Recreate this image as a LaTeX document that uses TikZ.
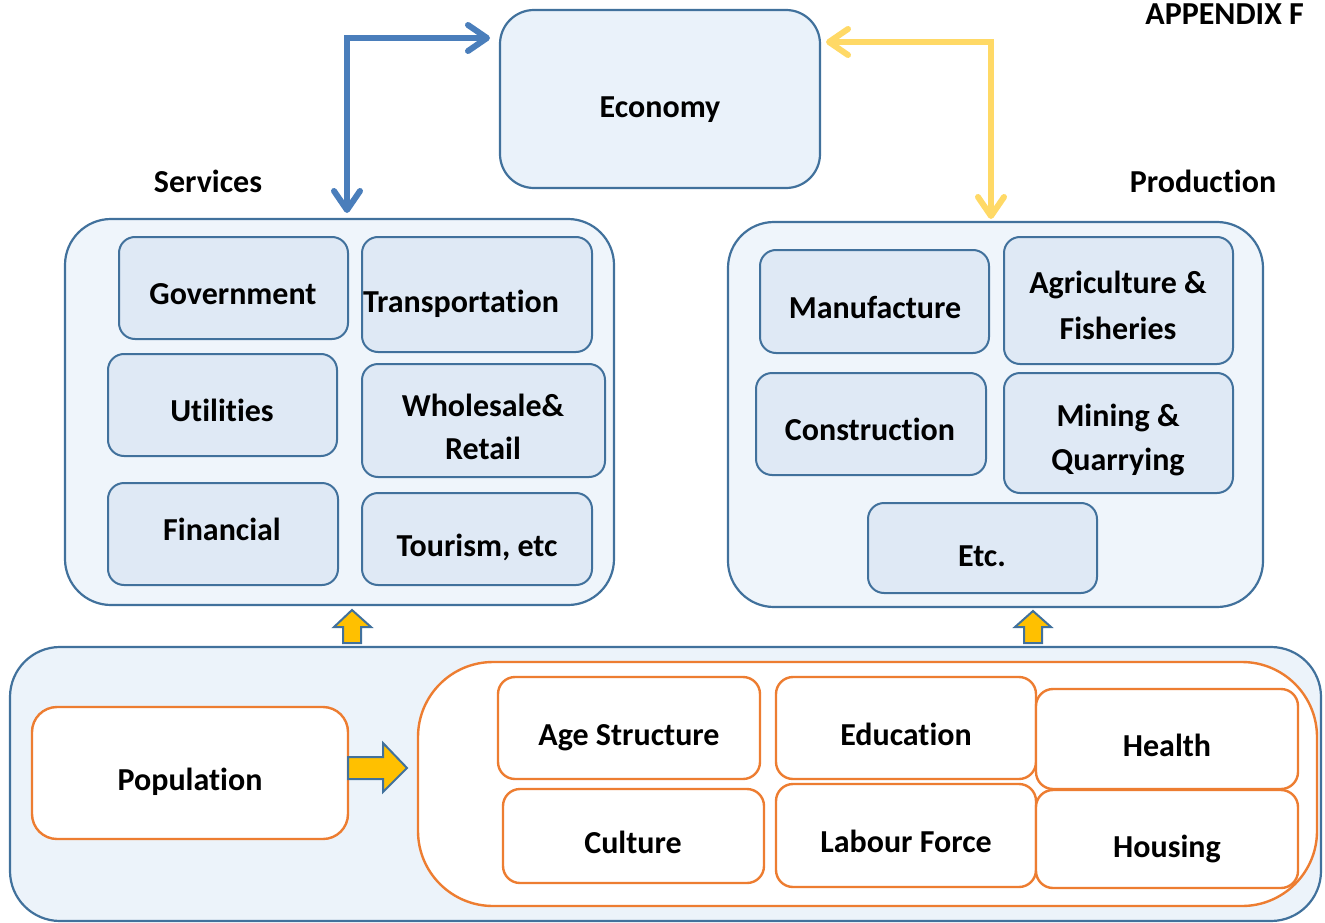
\documentclass[tikz,border=0pt]{standalone}
\usepackage{fontspec}
\setmainfont{Carlito}[RawFeature={-liga;-clig;-calt;-dlig}]
\usetikzlibrary{arrows.meta}
\definecolor{bdr}{HTML}{41719C}
\definecolor{contfill}{HTML}{EFF5FB}
\definecolor{boxfill}{HTML}{DFE9F5}
\definecolor{econfill}{HTML}{EAF2FA}
\definecolor{botfill}{HTML}{ECF3FA}
\definecolor{orng}{HTML}{ED7D31}
\definecolor{bluearr}{HTML}{4A7EBB}
\definecolor{yelarr}{HTML}{FFD966}
\definecolor{blkfill}{HTML}{FFC000}
\newcommand{\nolig}{\kern0pt{}}
\begin{document}
\begin{tikzpicture}[x=1pt,y=-1pt,
  cont/.style={rectangle, draw=bdr, line width=2.2pt, fill=contfill, rounded corners=46pt, inner sep=0pt},
  sbox/.style={rectangle, draw=bdr, line width=2pt, fill=boxfill, rounded corners=16pt, inner sep=0pt},
  obox/.style={rectangle, draw=orng, line width=2.4pt, fill=white, rounded corners=17pt, inner sep=0pt},
  lbl/.style={font=\bfseries\fontsize{32}{44}\selectfont, text height=20.5pt, text depth=0pt, inner sep=0pt},
  conn/.style={line width=6pt, line cap=round, line join=miter,
     {Straight Barb[length=19pt,width=26pt,line cap=round,line join=round]}-{Straight Barb[length=19pt,width=26pt,line cap=round,line join=round]}},
  blk/.style={draw=bdr, line width=2pt, fill=blkfill, line join=miter}
]
\useasboundingbox (0,0) rectangle (1325,923);

% top
\node[rectangle, draw=bdr, line width=2.2pt, fill=econfill, rounded corners=34pt, minimum width=320pt, minimum height=178pt] (econ) at (660,99) {};
\node[lbl] (econT) at (660,107) {Economy};
\node[lbl, anchor=east] (app) at (1304,14) {APPENDIX F};
\node[lbl] (svcT) at (208,182) {Services};
\node[lbl] (prodT) at (1203,182) {Production};

% services
\node[cont, minimum width=549pt, minimum height=386pt] (svc) at (339.5,412) {};
\node[sbox, minimum width=229pt, minimum height=102pt] (gov) at (233.5,288) {};
\node[sbox, minimum width=230pt, minimum height=115pt] (trans) at (477,294.5) {};
\node[sbox, minimum width=229pt, minimum height=102pt] (util) at (222.5,405) {};
\node[sbox, minimum width=243pt, minimum height=113pt] (whole) at (483.5,420.5) {};
\node[sbox, minimum width=230pt, minimum height=102pt] (fin) at (223,534) {};
\node[sbox, minimum width=230pt, minimum height=92pt] (tour) at (477,539) {};
\node[lbl] (govT) at (233,294) {Government};
\node[lbl] (transT) at (461,302) {Transportat\nolig ion};
\node[lbl] (utilT) at (222,411) {Ut\nolig ilit\nolig ies};
\node[lbl] (wholeA) at (483,406) {Wholesale\&};
\node[lbl] (wholeB) at (483,449) {Retail};
\node[lbl] (finT) at (222,530) {Financial};
\node[lbl] (tourT) at (477,546) {Tourism, etc};

% production
\node[cont, minimum width=535pt, minimum height=385pt] (prod) at (995.5,414.5) {};
\node[sbox, minimum width=229pt, minimum height=103pt] (manu) at (874.5,301.5) {};
\node[sbox, minimum width=229pt, minimum height=127pt] (agri) at (1118.5,300.5) {};
\node[sbox, minimum width=230pt, minimum height=102pt] (cons) at (871,424) {};
\node[sbox, minimum width=229pt, minimum height=120pt] (mining) at (1118.5,433) {};
\node[sbox, minimum width=229pt, minimum height=90pt] (etc) at (982.5,548) {};
\node[lbl] (manuT) at (875,308) {Manufacture};
\node[lbl] (agriA) at (1118,283) {Agriculture \&};
\node[lbl] (agriB) at (1118,329) {Fisheries};
\node[lbl] (consT) at (870,430) {Construct\nolig ion};
\node[lbl] (minA) at (1118,416) {Mining \&};
\node[lbl] (minB) at (1118,460) {Quarrying};
\node[lbl] (etcT) at (982,556) {Etc.};

% bottom
\node[rectangle, draw=bdr, line width=2.2pt, fill=botfill, rounded corners=50pt, minimum width=1311pt, minimum height=274pt] (bot) at (665.5,784) {};
\node[rectangle, draw=orng, line width=2.4pt, fill=white, rounded corners=75pt, minimum width=899pt, minimum height=244pt] (factors) at (867.5,784) {};
\node[obox, rounded corners=25pt, minimum width=316pt, minimum height=132pt] (pop) at (190,773) {};
\node[obox, minimum width=262pt, minimum height=102pt] (age) at (629,728) {};
\node[obox, minimum width=260pt, minimum height=102pt] (edu) at (906,728) {};
\node[obox, minimum width=262pt, minimum height=100pt] (health) at (1167,739) {};
\node[obox, minimum width=261pt, minimum height=94pt] (cult) at (633.5,836) {};
\node[obox, minimum width=260pt, minimum height=103pt] (lab) at (906,835.5) {};
\node[obox, minimum width=262pt, minimum height=98pt] (hous) at (1167,839) {};
\node[lbl] (popT) at (190,780) {Populat\nolig ion};
\node[lbl] (ageT) at (629,735) {Age Structure};
\node[lbl] (eduT) at (906,735) {Educat\nolig ion};
\node[lbl] (healthT) at (1167,746) {Health};
\node[lbl] (cultT) at (633,843) {Culture};
\node[lbl] (labT) at (906,842) {Labour Force};
\node[lbl] (housT) at (1167,847) {Housing};

% connectors
\coordinate (b1) at (347,213);
\coordinate (b2) at (490,38);
\draw[conn, draw=bluearr] (b1) |- (b2);
\coordinate (y1) at (826,42);
\coordinate (y2) at (991,219);
\draw[conn, draw=yelarr] (y1) -| (y2);

% block arrows
\draw[blk] (352,610) -- (371,627) -- (361,627) -- (361,643) -- (343,643) -- (343,627) -- (334,627) -- cycle;
\draw[blk] (1033,611) -- (1051,627) -- (1042,627) -- (1042,643) -- (1024,643) -- (1024,627) -- (1015,627) -- cycle;
\draw[blk] (348,757) -- (383,757) -- (383,743) -- (407,768) -- (383,792) -- (383,779) -- (348,779) -- cycle;
\end{tikzpicture}
\end{document}
